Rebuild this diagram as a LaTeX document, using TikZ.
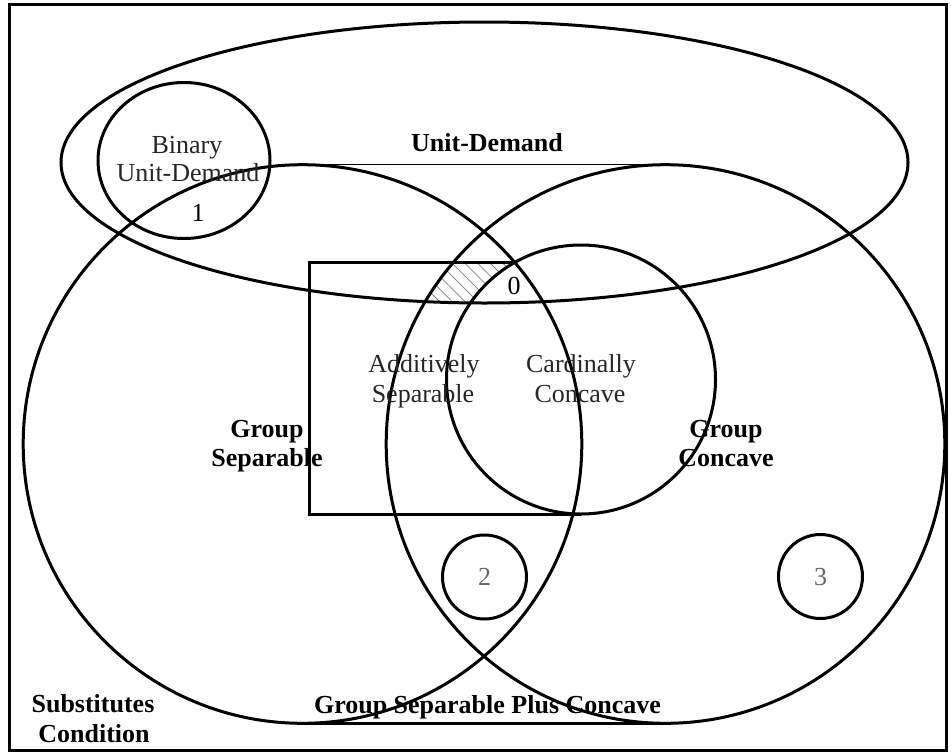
\documentclass[tikz,border=0pt]{standalone}
\usepackage{fontspec}
\setmainfont{Liberation Serif}
\usetikzlibrary{patterns.meta}
\begin{document}
\begin{tikzpicture}[x=1pt,y=-1pt,
  outline/.style={line width=3pt},
  thinline/.style={line width=1.4pt},
  lbl/.style={font=\fontsize{26}{29}\selectfont, inner sep=0pt, anchor=base, text=black!85},
  blbl/.style={font=\fontsize{26}{29}\selectfont\bfseries, inner sep=0pt, anchor=base, text=black},
  num/.style={lbl, text=black!60}]
\useasboundingbox (0,0) rectangle (951,753);
% hatched region
\begin{scope}
  \clip (300,262) rectangle (600,330);
  \clip (484.5,162.5) ellipse [x radius=423.5, y radius=140.5];
  \clip (665.5,444) circle [radius=279.3];
  \fill[pattern={Lines[angle=-45,distance=9pt,line width=0.8pt]}, pattern color=gray] (300,255) rectangle (600,330);
  \fill[white] (581,379.5) circle [radius=134.5];
\end{scope}
% frame
\draw[line width=3pt] (9,4) rectangle (946,750);
% unit-demand ellipse
\draw[outline] (484.5,162.5) ellipse [x radius=423.5, y radius=140.5];
% binary unit-demand
\draw[outline] (184,160.5) ellipse [x radius=86, y radius=78];
% group separable / group concave circles
\draw[outline] (302.5,444) circle [radius=279.3];
\draw[outline] (665.5,444) circle [radius=279.3];
\draw[thinline] (302.5,164.7) -- (665.5,164.7);
\draw[line width=3.2pt] (302.5,723.3) -- (665.5,723.3);
% additively separable
\draw[outline] (514,262) -- (309,262) -- (309,514) -- (581,514);
% cardinally concave
\draw[outline] (581,379.5) circle [radius=134.5];
% small circles
\draw[outline] (484.5,577) circle [radius=42];
\draw[outline] (820.5,576.5) circle [radius=42];
% labels
\node[lbl] (bin1) at (187,153) {Binary};
\node[lbl] (bin2) at (188,181.5) {Unit-Demand};
\node[lbl,text=black] (one) at (198,221) {1};
\node[blbl] (ud) at (487,151.5) {Unit-Demand};
\node[lbl,text=black] (zero) at (514,294.5) {0};
\node[lbl] (add1) at (424,372.5) {Additively};
\node[lbl] (add2) at (423,402.5) {Separable};
\node[lbl] (card1) at (581,372.5) {Cardinally};
\node[lbl] (card2) at (580,402.5) {Concave};
\node[blbl] (gs1) at (267,437) {Group};
\node[blbl] (gs2) at (267,466) {Separable};
\node[blbl] (gc1) at (726,437) {Group};
\node[blbl] (gc2) at (726,466) {Concave};
\node[num] (two) at (484.5,585) {2};
\node[num] (three) at (820.5,585) {3};
\node[blbl] (sub1) at (93,712) {Substitutes};
\node[blbl] (sub2) at (94,742) {Condition};
\node[blbl] (gspc) at (487.5,713) {Group Separable Plus Concave};
\end{tikzpicture}
\end{document}
